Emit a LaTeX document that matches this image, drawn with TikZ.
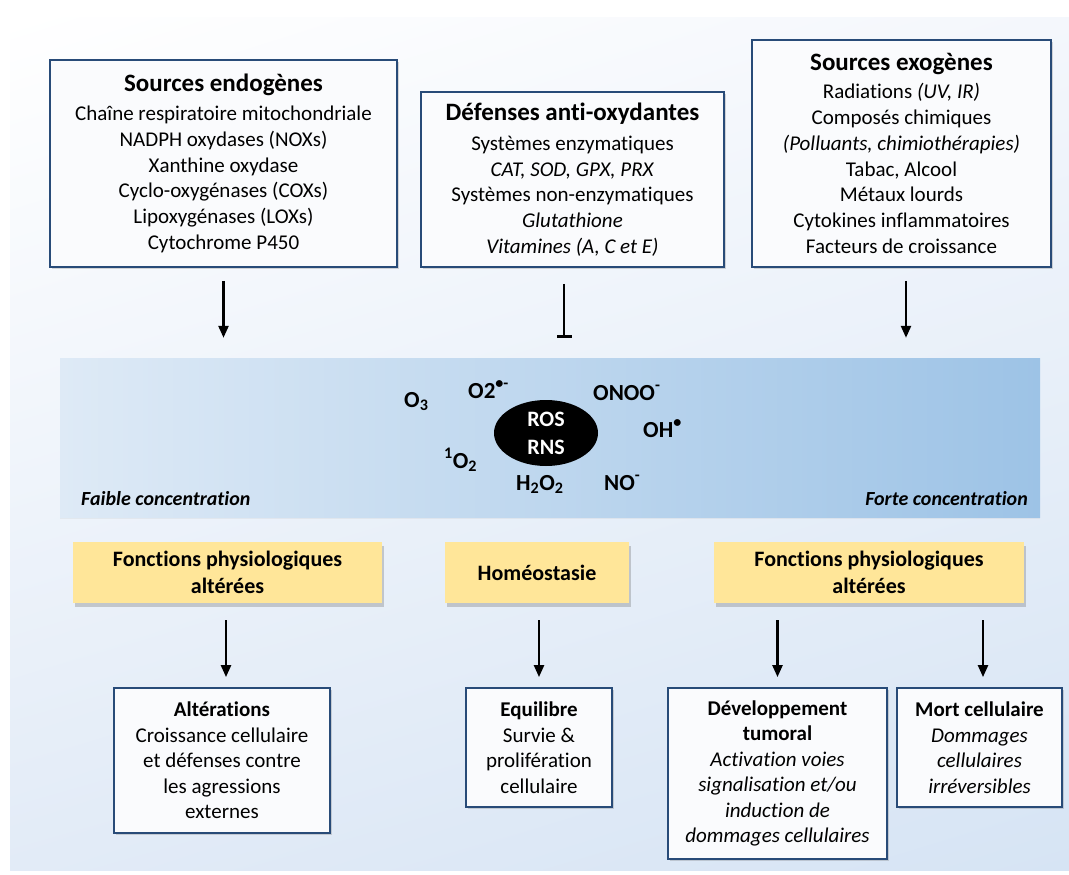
\documentclass[tikz,border=0pt]{standalone}
\usepackage{fontspec}
\setmainfont{Carlito}[RawFeature={-liga;-clig;-calt;-dlig}]
\usetikzlibrary{shapes.geometric,shadows,arrows.meta,shadings}
\definecolor{boxline}{RGB}{40,75,120}
\definecolor{boxfill}{RGB}{250,251,253}
\definecolor{ylw}{RGB}{255,230,153}
\definecolor{bandL}{RGB}{222,234,246}
\definecolor{bandR}{RGB}{157,195,230}
\definecolor{bgA}{RGB}{244,247,252}
\definecolor{bgB}{RGB}{226,235,247}
\definecolor{bgC}{RGB}{214,228,244}
\tikzset{
  srcbox/.style={draw=boxline, line width=1.8pt, fill=boxfill, align=center,
    font=\fontsize{21}{25.7}\selectfont, inner sep=0pt,
    drop shadow={shadow xshift=2pt, shadow yshift=-2pt, opacity=0.25, fill=black!60}},
  ybox/.style={fill=ylw, align=center, inner sep=0pt,
    font=\bfseries\fontsize{22}{27}\selectfont,
    drop shadow={shadow xshift=1.5pt, shadow yshift=-4pt, opacity=0.3, fill=black!60}},
  resbox/.style={draw=boxline, line width=1.8pt, fill=boxfill, align=center,
    font=\fontsize{21}{25.5}\selectfont, inner sep=0pt,
    drop shadow={shadow xshift=2pt, shadow yshift=-2pt, opacity=0.25, fill=black!60}},
  chem/.style={font=\bfseries\fontsize{23}{26}\selectfont, inner sep=0pt, anchor=base west},
  conc/.style={font=\bfseries\itshape\fontsize{20}{24}\selectfont, inner sep=0pt},
  arr/.style={line width=2.4pt, -{Triangle[width=10pt,length=12pt]}},
  inhib/.style={line width=2.4pt, -{Bar[width=15pt,line width=3pt]}},
}
\newcommand{\ttl}[1]{{\bfseries\fontsize{25}{30}\selectfont #1}}
\begin{document}
\begin{tikzpicture}[x=1pt,y=-1pt]
\useasboundingbox (0,0) rectangle (1069,875);
\shade[upper left=white, upper right=bgA, lower left=bgB, lower right=bgC] (10,18) rectangle (1069,870);

% top boxes
\node[srcbox, minimum width=347pt, minimum height=207pt] (endo) at (223.5,163.5)
 {\ttl{Sources endogènes}\\[3.3pt]
  Chaîne respiratoire mitochondriale\\
  NADPH oxydases (NOXs)\\
  Xanthine oxydase\\
  Cyclo-oxygénases (COXs)\\
  Lipoxygénases (LOXs)\\
  Cytochrome P450};
\node[srcbox, minimum width=303pt, minimum height=175pt] (def) at (572.5,179.5)
 {\ttl{Défenses anti-oxydantes}\\[4.3pt]
  Systèmes enzymatiques\\
  \textit{CAT, SOD, GPX, PRX}\\
  Systèmes non-enzymatiques\\
  \textit{Glutathione}\\
  \textit{Vitamines (A, C et E)}};
\node[srcbox, minimum width=299pt, minimum height=227pt] (exo) at (901.5,153.5)
 {\ttl{Sources exogènes}\\[2.3pt]
  Radiations \textit{(UV, IR)}\\
  Composés chimiques\\
  \textit{(Polluants, chimiothérapies)}\\
  Tabac, Alcool\\
  Métaux lourds\\
  Cytokines inflammatoires\\
  Facteurs de croissance};

% band
\node[shade, left color=bandL, right color=bandR, minimum width=980pt, minimum height=159pt, inner sep=0pt,
  drop shadow={shadow xshift=0pt, shadow yshift=-2pt, opacity=0.12, fill=black!40}] (band) at (550,437.5) {};

\node[ellipse, fill=black, minimum width=104pt, minimum height=66pt, inner sep=0pt, text=white,
  align=center, font=\bfseries\fontsize{22}{28}\selectfont] (ros) at (546,433) {ROS\\RNS};
\node[chem] (o3) at (404,407) {O\textsubscript{3}};
\node[chem] (o2) at (468,398) {O2\textsuperscript{•-}};
\node[chem] (onoo) at (593,400) {ONOO\textsuperscript{-}};
\node[chem] (oh) at (643,437) {OH\textsuperscript{•}};
\node[chem] (so) at (444,468) {\textsuperscript{1}O\textsubscript{2}};
\node[chem] (hh) at (516,490) {H\textsubscript{2}O\textsubscript{2}};
\node[chem] (no) at (604,490) {NO\textsuperscript{-}};
\node[conc, anchor=base west] (faible) at (81,505) {Faible concentration};
\node[conc, anchor=base east] (forte) at (1028,505) {Forte concentration};

% arrows to band
\draw[arr, shorten <=13pt, shorten >=20pt] (endo.south) -- (endo.south |- band.north);
\draw[inhib, shorten <=16pt, shorten >=20pt] ([xshift=-8.5pt]def.south) -- ([xshift=-8.5pt]def.south |- band.north);
\draw[arr, shorten <=13pt, shorten >=20pt] ([xshift=4.5pt]exo.south) -- ([xshift=4.5pt]exo.south |- band.north);

% yellow boxes
\node[ybox, minimum width=309pt, minimum height=61pt] (y1) at (227.5,572.5) {Fonctions physiologiques\\altérées};
\node[ybox, minimum width=184pt, minimum height=61pt] (y2) at (537,572.5) {Homéostasie};
\node[ybox, minimum width=310pt, minimum height=61pt] (y3) at (869,572.5) {Fonctions physiologiques\\altérées};

% result boxes
\node[resbox, minimum width=216pt, minimum height=145pt] (alt) at (222,760.5)
 {\textbf{Altérations}\\Croissance cellulaire\\et défenses contre\\les agressions\\externes};
\node[resbox, minimum width=146pt, minimum height=119pt] (eq) at (539,747.5)
 {\textbf{Equilibre}\\Survie \&\\prolifération\\cellulaire};
\node[resbox, minimum width=219pt, minimum height=171pt] (dev) at (777.5,773.5)
 {\textbf{Développement}\\\textbf{tumoral}\\\textit{Activation voies}\\\textit{signalisation et/ou}\\\textit{induction de}\\\textit{dommages cellulaires}};
\node[resbox, minimum width=165pt, minimum height=119pt] (mort) at (979.5,747.5)
 {\textbf{Mort cellulaire}\\\textit{Dommages}\\\textit{cellulaires}\\\textit{irréversibles}};

\draw[arr, shorten <=17pt, shorten >=10pt] ([xshift=4pt]alt.north |- y1.south) -- ([xshift=4pt]alt.north);
\draw[arr, shorten <=17pt, shorten >=10pt] (eq.north |- y2.south) -- (eq.north);
\draw[arr, shorten <=17pt, shorten >=10pt] (dev.north |- y3.south) -- (dev.north);
\draw[arr, shorten <=17pt, shorten >=10pt] ([xshift=3.5pt]mort.north |- y3.south) -- ([xshift=3.5pt]mort.north);
\end{tikzpicture}
\end{document}
